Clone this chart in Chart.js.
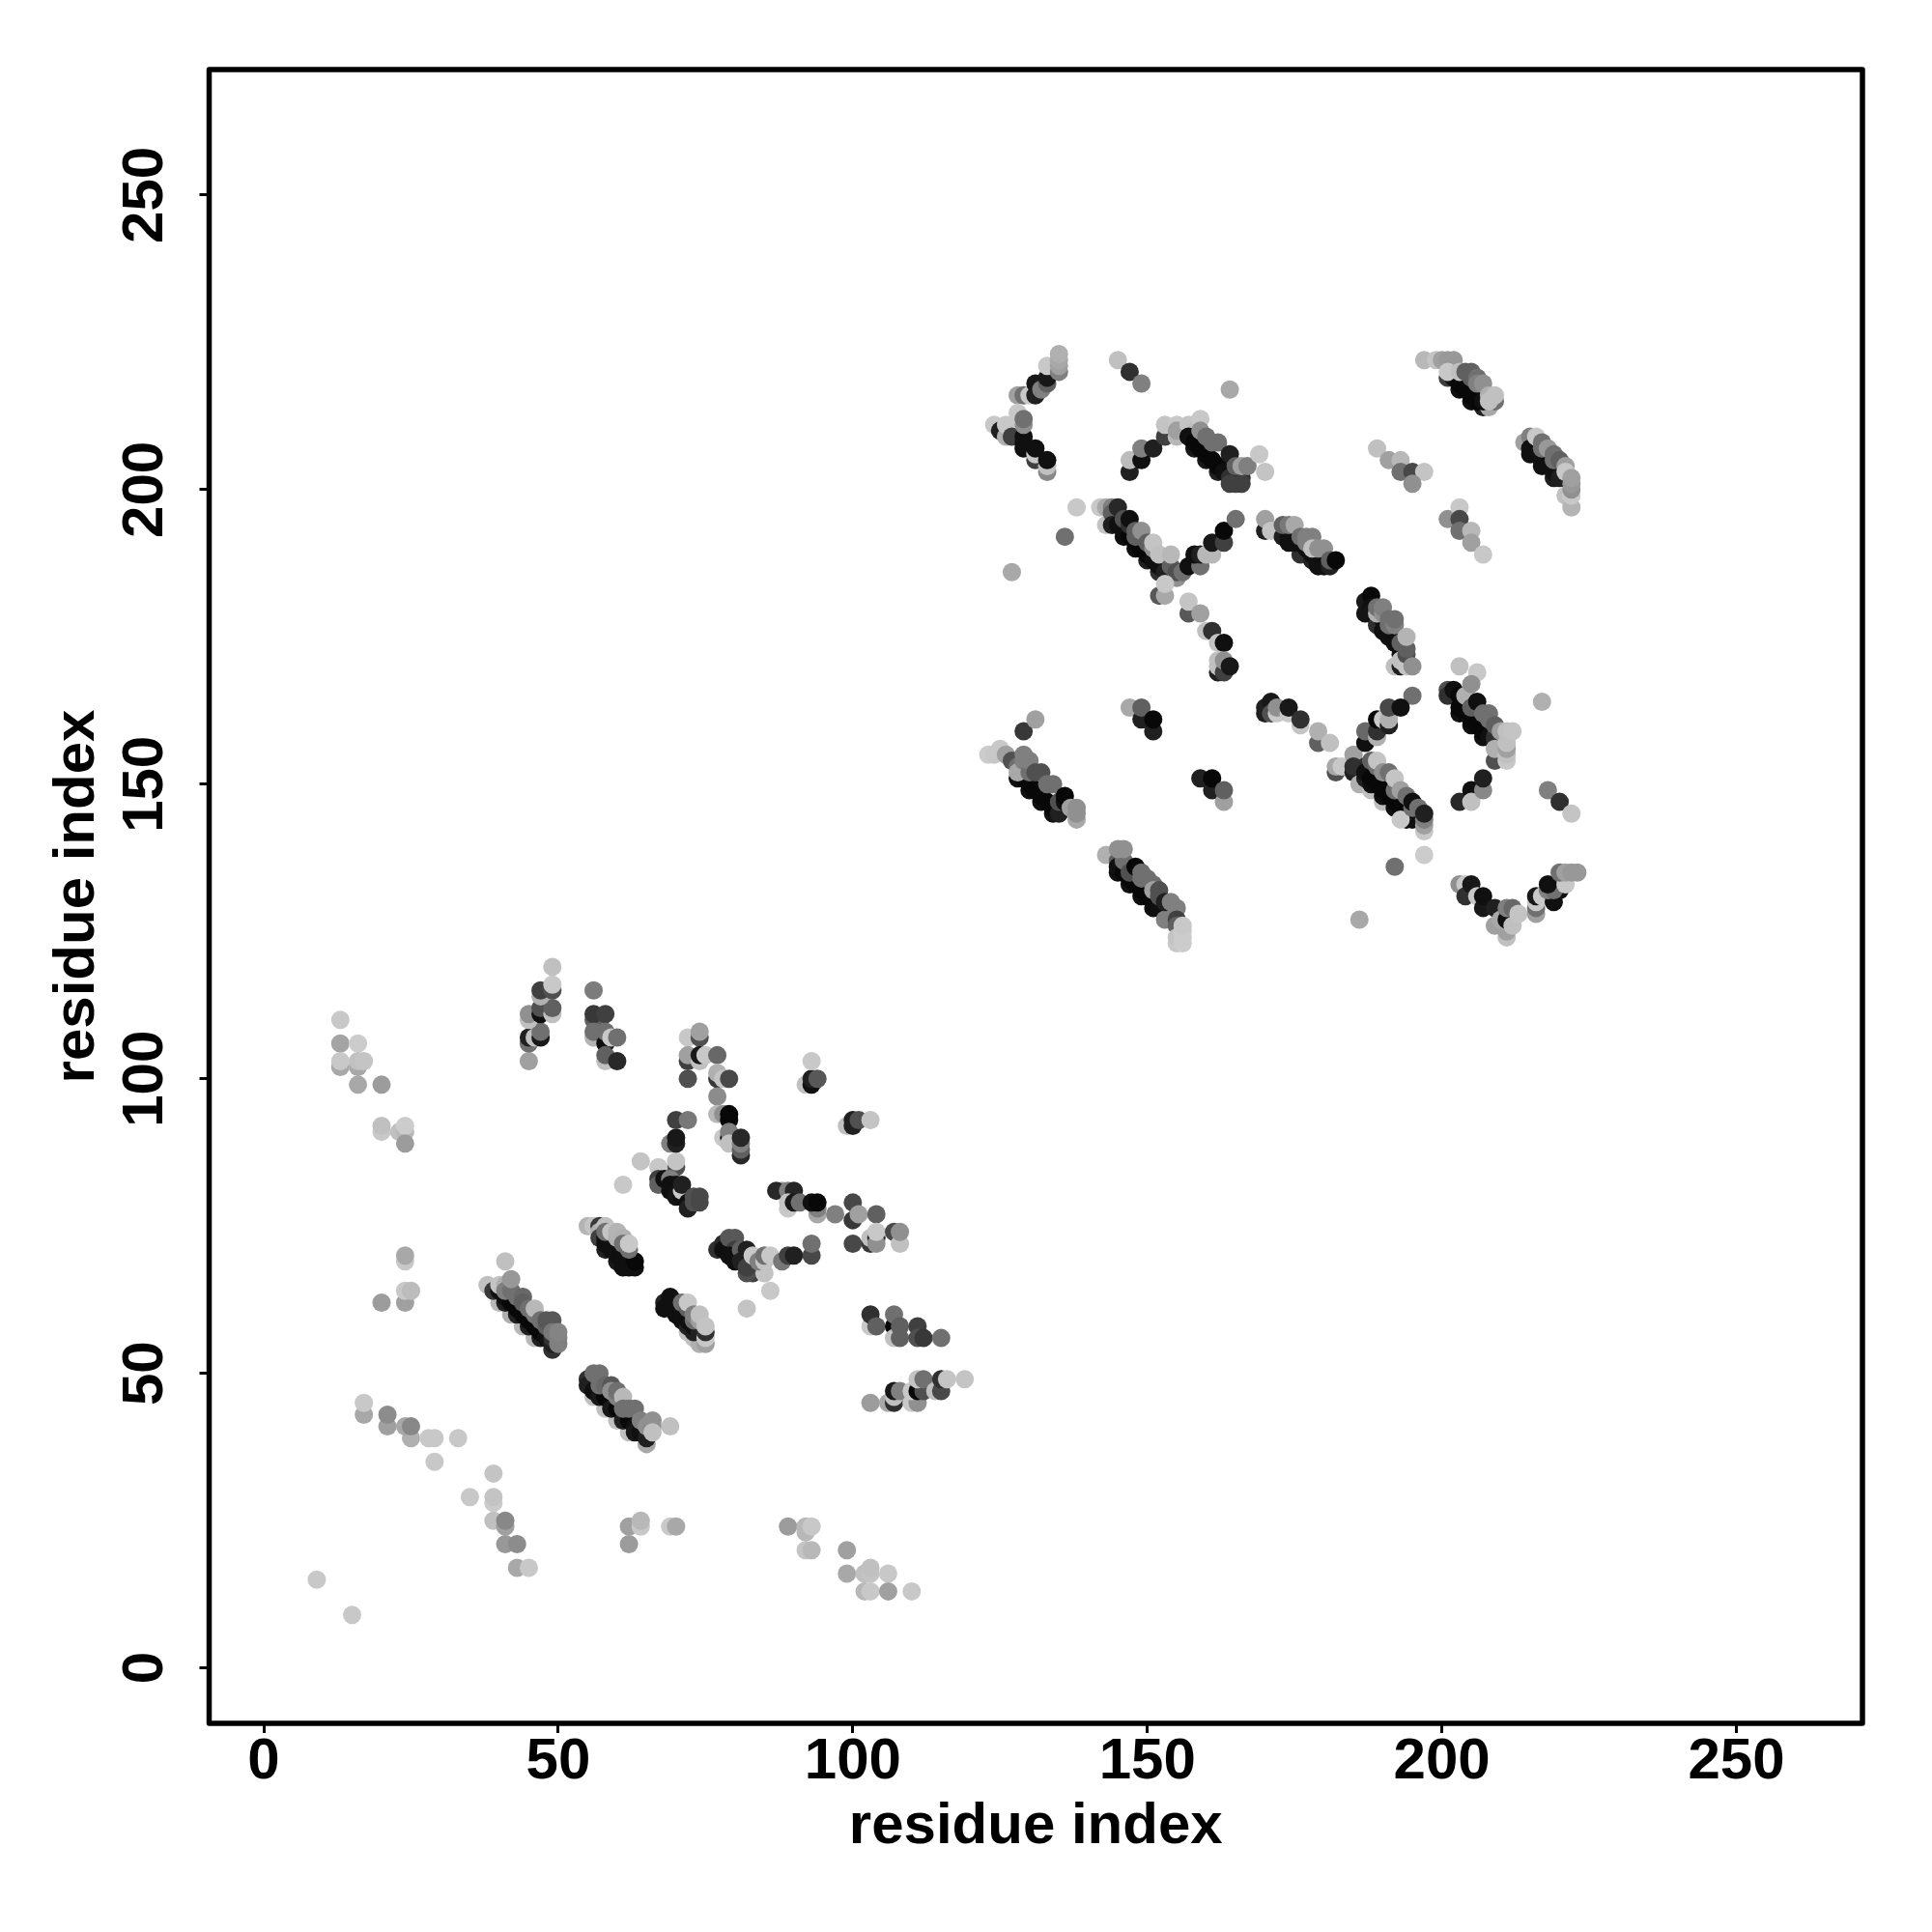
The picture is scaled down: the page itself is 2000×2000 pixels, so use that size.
<!DOCTYPE html>
<html><head><meta charset="utf-8">
<style>html,body{margin:0;padding:0;background:#fff}canvas{display:block}</style>
<script src="https://cdn.jsdelivr.net/npm/chart.js@4/dist/chart.umd.min.js"></script>
</head><body><canvas id="c" width="2000" height="2000"></canvas>
<script>
const tickValues=[0,50,100,150,200,250];
const axisTitle="residue index";
// each contact: [residue x, residue y, grey level]
const sparseLow=[[9,15,0xc8],[15,9,0xc8],[17,43,0xa8],[17,45,0xc8],[21,41,0xa0],[21,43,0x8c],[25,39,0xb0],[24,41,0xa8],[25,41,0x88],[28,39,0xc8],[29,39,0xc8],[33,39,0xc8],[29,35,0xc8],[35,29,0xc8],[39,33,0xc4],[39,28,0xcc],[39,29,0xc4],[39,25,0xc0],[41,24,0xa0],[41,25,0x88],[41,21,0x98],[43,21,0x8c],[43,17,0xa8],[45,17,0xc8],
[62,24,0xa0],[64,24,0xc8],[64,25,0xb8],[62,21,0x9c],[69,24,0xc8],[70,24,0xa8],[89,24,0x9c],[92,23,0xb8],[92,24,0xb8],[93,24,0xc8],[92,20,0xc4],[93,20,0xb8],[99,20,0xa0],[99,16,0xa8],[102,16,0xc0],[103,16,0xc4],[103,17,0xc0],[106,16,0xc8],[102,13,0xb8],[103,13,0xc8],[106,13,0xa0],[110,13,0xc8]];
const sparseUpper=[[13,110,0xc8],[13,106,0xa4],[16,106,0xcc],[13,102,0xa8],[13,103,0xc8],[16,102,0xa8],[16,103,0xc0],[17,103,0xc4],[16,99,0xa8],[20,99,0x9c],[20,91,0xc8],[20,92,0xc0],[23,91,0xc0],[24,91,0xb8],[24,92,0xcc],[24,89,0x9c],[24,69,0xc8],[24,70,0xa8],[20,62,0x9c],[24,62,0xa0],[24,64,0xc8],[25,64,0xbc]];
const peaksA=[[45,103,0xa0],[45,106,0x70],[45,107,0x20],[46,107,0xc0],[47,107,0x18],[47,108,0x70],[45,110,0xc0],[45,111,0x90],[47,111,0x10],[47,112,0x50],[49,111,0xc0],[49,112,0x60],[47,114,0xb0],[47,115,0x40],[49,115,0x50],[49,116,0xc8],[49,119,0xc0]];
const peaksB=[[56,115,0x7c],[56,110,0x60],[56,111,0x38],[58,111,0x40],[56,107,0xb4],[56,108,0x70],[58,106,0x10],[58,108,0x70],[59,107,0xc8],[60,107,0x70],[58,103,0xc0],[58,104,0x60],[60,103,0x28]];
const bandA=[[38,65,0xc0],[40,62,0xb8],[42,60,0xb0],[44,58,0xb8],[46,56,0xb8],[39,64,0x38],[41,62,0x20],[43,60,0x20],[45,58,0x20],[47,56,0x20],[40,64,0x10],[41,63,0x10],[42,62,0x08],[43,61,0x08],[44,60,0x08],[45,59,0x08],[46,58,0x08],[47,57,0x08],[48,56,0x10],[49,54,0x30],[49,55,0x20],[49,56,0x30],[40,65,0xc4],[41,65,0xb0],[41,64,0x80],[42,64,0x70],[42,66,0x98],[41,69,0xc0],[43,63,0x70],[44,63,0x68],[44,62,0x60],[45,61,0x70],[46,60,0x78],[46,61,0xb8],[47,59,0x70],[48,58,0x60],[48,59,0x58],[49,59,0x58],[49,57,0x78],[50,55,0x80],[50,56,0x80],[50,57,0x84]];
const bandB=[[65,38,0xa8],[56,46,0xc0],[58,44,0xc0],[60,42,0xc0],[62,40,0xc0],[55,49,0x30],[55,48,0x20],[56,47,0x10],[57,47,0x10],[57,46,0x18],[58,46,0x08],[59,45,0x08],[59,44,0x18],[60,44,0x08],[61,43,0x08],[61,42,0x20],[62,42,0x08],[63,41,0x10],[63,40,0x18],[64,40,0x10],[65,39,0x20],[56,50,0x70],[57,50,0x70],[57,48,0x70],[58,48,0x68],[59,48,0x58],[59,47,0x90],[60,46,0x80],[60,47,0x70],[61,46,0xb8],[61,44,0x70],[62,44,0x70],[63,44,0x70],[64,42,0x80],[65,41,0x90],[66,41,0x88],[66,42,0x90],[66,40,0xc0],[69,41,0xc0]];
const bandC=[[55,75,0xb4],[56,75,0xc4],[57,75,0x38],[57,74,0xb0],[58,75,0xc0],[57,73,0x40],[58,71,0x20],[60,69,0x18],[61,68,0x10],[58,72,0x10],[59,71,0x10],[60,70,0x10],[61,69,0x10],[62,68,0x10],[58,73,0x10],[59,72,0x10],[60,71,0x10],[61,70,0x10],[62,69,0x10],[63,68,0x10],[63,69,0x08],[58,74,0x70],[59,74,0xc4],[60,73,0xb0],[60,74,0xb4],[61,73,0xb0],[61,72,0x70],[62,71,0x70],[62,72,0xc8]];
const bandD=[[72,57,0xc0],[73,56,0xc0],[74,55,0xb0],[68,62,0x20],[68,61,0x10],[69,63,0x10],[69,61,0x10],[70,60,0x10],[71,59,0x10],[72,58,0x20],[73,57,0x20],[70,62,0x18],[69,62,0x10],[70,61,0x10],[71,60,0x10],[72,59,0x10],[73,58,0x10],[74,57,0x20],[75,55,0xa0],[75,56,0xc8],[75,57,0x30],[71,62,0x70],[72,61,0x60],[72,62,0xc8],[73,59,0x70],[73,60,0x80],[74,59,0xa0],[74,60,0xc0],[75,58,0xc4]];
const bandE=[[88,81,0xa0],[87,81,0x28],[89,81,0x80],[90,81,0x25],[89,78,0xc8],[89,79,0xc4],[90,79,0x18],[91,79,0x70],[94,77,0xa8],[94,78,0x80],[93,79,0x10],[94,79,0x08],[97,77,0x80],[100,76,0x38],[100,79,0x48],[101,77,0xa0],[104,77,0x60],[100,72,0x48],[103,72,0x38],[103,73,0xc0],[104,73,0x20],[104,72,0x90],[104,74,0xc8],[107,74,0x48],[108,72,0xc0],[108,74,0x90]];
const bandF=[[77,71,0x30],[78,72,0x28],[78,71,0x10],[79,71,0x10],[80,70,0x10],[81,70,0x10],[82,69,0x10],[79,73,0x58],[80,73,0x58],[80,71,0x40],[79,70,0x10],[80,69,0x10],[81,71,0x60],[82,71,0x20],[81,69,0x20],[83,67,0x40],[82,67,0x50],[82,68,0x40],[83,70,0xc8],[85,67,0xc4],[84,69,0x80],[85,69,0xc4],[85,70,0x70],[86,70,0xc8],[88,69,0x78],[89,70,0x40],[90,70,0x20],[93,70,0x48],[93,72,0x70],[86,64,0xc8],[82,61,0xc4]];
const stemG=[[70,85,0x50],[70,86,0xc4],[69,89,0x80],[70,89,0x20],[70,90,0x18],[70,93,0x40],[72,93,0x78],[64,86,0xc4],[61,82,0xc8],[67,85,0xc8],[67,83,0x40],[67,82,0x60],[68,83,0x10],[69,83,0x80],[69,82,0x10],[70,82,0x10],[69,81,0x10],[70,81,0x10],[70,80,0x15],[71,80,0x10],[72,80,0x10],[71,81,0xc8],[72,79,0x10],[72,78,0x20],[71,82,0x20],[73,79,0x50],[73,80,0x50],[74,79,0x48],[74,80,0x48]];
const hookH=[[72,107,0xc8],[74,107,0x50],[74,108,0xa0],[72,103,0x40],[72,104,0xa0],[72,100,0x50],[74,103,0xc0],[74,104,0x18],[75,104,0xc8],[77,104,0x68],[77,100,0x38],[77,101,0xb0],[78,100,0xc4],[79,100,0x48],[77,97,0x8c],[77,94,0xb8],[78,94,0x90],[79,93,0x08],[79,94,0x08],[78,90,0xc8],[79,90,0x10],[79,91,0x80],[79,89,0xc0],[81,87,0x28],[81,88,0x60],[81,89,0x80],[81,90,0x28],[92,99,0xc0],[93,99,0x10],[93,100,0x20],[94,100,0x58],[93,103,0xc8],[99,92,0xc0],[100,92,0x20],[100,93,0x20],[101,93,0x50],[103,93,0xc4]];
const sideI=[[103,58,0xc8],[103,60,0x30],[104,58,0x60],[107,58,0x08],[107,56,0xc0],[107,60,0x70],[108,58,0x60],[108,56,0x60],[111,58,0x40],[111,56,0x50],[112,56,0x38],[115,56,0x70],[103,45,0x9c],[106,45,0xa8],[107,45,0x30],[107,46,0xc0],[107,47,0x18],[108,47,0x80],[110,45,0xc8],[111,45,0x90],[110,47,0xc8],[111,47,0x08],[112,47,0x50],[111,49,0xc4],[112,49,0x70],[114,47,0xc0],[115,47,0x48],[115,49,0x30],[116,49,0xc4],[119,49,0xc4]];
const hairpinJ=[[128,216,0xa0],[129,216,0x70],[130,216,0xc8],[131,216,0x20],[131,218,0x18],[132,217,0x80],[133,218,0x60],[133,219,0x18],[133,221,0xc8],[135,220,0x80],[135,221,0xa0],[135,222,0xa8],[135,223,0xb0],[124,211,0xc8],[125,210,0x20],[126,209,0xb0],[126,211,0xc8],[127,209,0x40],[128,213,0xc8],[129,207,0x10],[129,208,0x10],[129,209,0x10],[129,211,0x90],[129,212,0x70],[131,205,0x40],[131,206,0xc8],[131,207,0x10],[133,203,0x88],[133,204,0xc0],[133,205,0x10]];
const upperK=[[145,222,0xc0],[147,220,0x30],[149,218,0x80],[164,217,0xa8],[138,197,0xc8],[136,192,0x70],[127,186,0xa8],[147,203,0x20],[147,205,0xbc],[149,205,0x10],[149,207,0x80],[151,207,0x20],[153,209,0x40],[153,211,0xc4],[155,209,0xb8],[155,211,0xc8],[155,210,0xa0],[157,211,0xc4],[158,210,0xc0],[159,212,0xc8],[158,207,0x18],[160,205,0x18],[162,203,0x20],[157,209,0x10],[158,208,0x08],[159,207,0x08],[160,206,0x08],[161,205,0x08],[162,204,0x08],[163,203,0x10],[164,202,0x30],[165,201,0x40],[166,202,0x30],[166,201,0x40],[164,201,0x40],[159,210,0x90],[160,209,0x70],[161,208,0x70],[162,208,0x70],[164,206,0x20],[165,204,0x60],[166,204,0xa0],[167,204,0x80],[169,206,0xc8],[170,203,0xc4]];
const bandL=[[143,194,0xc4],[142,197,0xc8],[143,197,0xa8],[144,197,0x80],[144,196,0x60],[144,194,0x20],[145,197,0x28],[146,192,0x10],[148,190,0x10],[150,188,0x20],[152,186,0x30],[145,194,0x10],[146,193,0x10],[147,192,0x08],[148,191,0x08],[149,190,0x08],[150,189,0x08],[151,188,0x10],[152,187,0x10],[146,195,0x50],[147,194,0x30],[147,195,0x10],[148,192,0x60],[148,193,0x60],[149,193,0x90],[150,191,0x60],[151,190,0x90],[151,191,0xc4],[152,189,0xc0],[153,186,0x20],[154,187,0x60],[155,185,0x90],[155,186,0x50],[154,189,0xb8],[156,186,0x70],[157,187,0x10],[159,187,0x70],[158,189,0x10],[159,189,0x20],[160,189,0xb8],[161,189,0xb8],[161,191,0x18],[163,191,0x40],[163,193,0x08],[165,195,0x70],[152,182,0x58],[153,182,0xa8],[153,184,0xc8],[157,179,0x58],[157,181,0xc4],[159,179,0xa0],[160,176,0xc0],[161,176,0x30],[162,174,0xc4],[163,174,0x10],[162,169,0x20],[162,170,0xc0],[162,171,0xc0],[163,169,0x40],[163,171,0x90],[164,170,0x18]];
const bandM=[[170,193,0x20],[170,195,0xa0],[171,193,0xc4],[173,192,0x20],[174,191,0x10],[176,189,0x30],[178,188,0x20],[174,192,0x10],[175,191,0x10],[176,191,0x10],[177,190,0x10],[178,189,0x10],[179,188,0x10],[180,188,0x10],[179,187,0x10],[180,187,0x10],[181,187,0x20],[173,194,0x60],[174,194,0x78],[175,194,0xa8],[176,192,0x70],[177,191,0x80],[177,192,0x80],[178,192,0x80],[178,190,0xc0],[179,190,0x90],[180,190,0x90],[181,188,0x60],[182,188,0x08]];
const bandN=[[187,179,0x15],[187,181,0x18],[188,182,0x08],[188,180,0x10],[188,179,0x15],[189,178,0x10],[189,177,0x30],[190,178,0x10],[190,176,0x10],[191,176,0x10],[191,175,0x10],[192,175,0x10],[192,174,0x10],[193,173,0x10],[193,172,0x10],[189,179,0xb0],[189,180,0x70],[190,179,0x90],[190,180,0x80],[191,177,0x70],[191,178,0x70],[192,177,0x80],[192,178,0x70],[192,170,0xc0],[193,170,0x20],[193,171,0xc0],[193,174,0x60],[194,170,0xc4],[194,172,0x50],[194,173,0x60],[194,175,0xb4],[195,170,0x90],[195,165,0x70]];
const rightO=[[189,207,0xc0],[191,205,0xa0],[193,205,0xb8],[193,203,0x70],[195,203,0x48],[197,203,0xc4],[195,201,0x90],[201,195,0x90],[203,197,0xc8],[203,195,0x48],[203,193,0x70],[205,193,0xb8],[205,191,0xa0],[207,189,0xc8]];
const bandP=[[197,222,0xb8],[199,222,0xc4],[200,222,0xa0],[201,219,0x40],[203,217,0x10],[205,215,0x10],[207,214,0x20],[208,214,0xa8],[202,219,0x10],[203,218,0x08],[204,217,0x08],[205,216,0x08],[206,215,0x08],[207,215,0x10],[201,222,0x98],[202,222,0x98],[201,220,0xc8],[203,220,0xc0],[204,220,0x60],[205,219,0x60],[205,220,0x60],[206,219,0x70],[206,218,0x80],[207,218,0x90],[208,216,0xb0],[209,215,0x70],[208,215,0xc0],[209,216,0xc0]];
const bandQ=[[214,208,0xa0],[215,209,0x80],[215,206,0x10],[217,204,0x10],[219,202,0x20],[215,207,0x10],[216,206,0x10],[217,205,0x10],[218,204,0x10],[219,203,0x10],[220,202,0x20],[216,209,0xc8],[217,208,0x70],[217,207,0x70],[218,207,0x98],[219,206,0x70],[219,205,0x70],[220,205,0x60],[221,204,0xa0],[221,199,0xc0],[222,197,0xb4],[222,199,0xc8],[222,200,0x90],[221,203,0xc8],[222,201,0x98],[222,202,0xa0]];
const bandR=[[123,155,0xcc],[124,155,0xc8],[125,156,0xc8],[126,155,0xa0],[127,154,0x50],[128,151,0x10],[130,149,0x10],[132,147,0x10],[134,145,0x10],[129,151,0x08],[130,150,0x08],[131,149,0x08],[132,148,0x08],[133,147,0x08],[134,146,0x08],[135,145,0x20],[128,153,0x70],[128,152,0xa8],[129,154,0x80],[129,155,0x80],[130,152,0x70],[130,154,0x80],[131,152,0x50],[132,152,0x50],[133,150,0x70],[134,150,0x70],[135,147,0x50],[136,147,0x10],[136,148,0x08],[138,144,0xa8],[137,146,0xa0],[138,145,0x90],[138,146,0x90],[129,159,0x38],[131,161,0xa0]];
const bandS=[[143,138,0xb0],[145,137,0x60],[145,135,0x10],[147,133,0x10],[149,131,0x10],[151,129,0x10],[145,136,0x10],[146,135,0x08],[147,134,0x08],[148,133,0x08],[149,132,0x08],[150,131,0x08],[151,130,0x08],[152,129,0x10],[146,137,0x70],[145,139,0x90],[146,139,0x90],[147,135,0x50],[148,136,0x08],[149,134,0x70],[149,135,0x70],[150,134,0x70],[151,133,0x70],[151,132,0xa0],[152,131,0x50],[152,132,0x50],[153,127,0x80],[153,130,0x20],[154,130,0x80],[155,129,0x80],[155,127,0x40],[155,126,0x60],[155,123,0xc8],[155,124,0xc4],[156,123,0xcc],[156,124,0xcc],[156,125,0xcc],[156,126,0xc8]];
const islandT=[[147,163,0xa8],[149,161,0x20],[149,163,0x60],[151,159,0x20],[151,161,0x08],[159,151,0x20],[161,149,0x20],[161,151,0x08],[163,147,0xa0],[163,149,0x60],[170,162,0x20],[170,163,0x20],[171,164,0x18],[171,162,0x50],[172,162,0xc8],[172,163,0x90],[174,162,0xc8],[174,163,0x18],[176,160,0xc4],[176,161,0x30],[179,157,0x60],[179,159,0xb0],[181,157,0xc0]];
const bandU=[[182,152,0x50],[182,153,0xa8],[183,153,0xc8],[185,155,0xa0],[185,152,0x20],[185,153,0x30],[186,150,0xb0],[188,149,0xc0],[190,147,0xc0],[187,151,0x20],[187,153,0x30],[187,157,0x10],[188,150,0x10],[190,148,0x10],[192,146,0x10],[194,144,0x15],[187,152,0x10],[188,151,0x08],[189,150,0x08],[190,149,0x08],[191,148,0x08],[192,147,0x08],[193,146,0x08],[194,145,0x08],[195,144,0x10],[187,159,0x68],[189,158,0xb0],[189,159,0x30],[189,161,0x08],[190,161,0xc8],[191,160,0x20],[191,161,0xb0],[191,163,0x48],[193,163,0x10],[188,154,0x60],[189,153,0x70],[189,154,0xc4],[190,152,0x90],[191,152,0x70],[192,149,0x70],[192,151,0xc4],[193,149,0xa0],[193,144,0xc8],[194,148,0x70],[195,146,0x70],[195,147,0x10],[196,146,0x70],[197,142,0xc8],[197,143,0xa0],[197,144,0x80],[197,145,0x20],[197,138,0xcc],[192,136,0x70],[186,127,0xa8]];
const bandV=[[203,170,0xc0],[206,169,0xc8],[201,166,0x50],[201,165,0x30],[202,166,0x10],[203,165,0x08],[203,162,0x10],[205,160,0x10],[207,158,0x10],[203,163,0x08],[204,162,0x08],[205,161,0x08],[206,160,0x08],[207,159,0x08],[208,158,0x10],[209,157,0x20],[204,165,0xb0],[205,167,0x90],[205,163,0x60],[206,163,0x60],[206,164,0x10],[207,162,0x70],[208,161,0x70],[208,162,0x70],[209,158,0x30],[209,160,0x60],[210,159,0xa0],[209,154,0x50],[209,156,0xb0],[211,154,0xc8],[211,155,0xc0],[211,156,0xa0],[211,157,0xc0],[211,159,0xc0],[212,159,0xc4],[203,147,0x28],[205,149,0x10],[205,147,0xc0],[207,149,0x88],[207,151,0x20],[217,164,0xb0],[218,149,0x80],[220,147,0x30],[222,145,0xc4]];
const valleyW=[[203,133,0x90],[204,133,0xc8],[204,131,0x30],[205,133,0x18],[206,131,0xc8],[207,129,0x18],[207,131,0x10],[209,129,0x20],[209,126,0xa0],[211,124,0xc0],[211,125,0xa0],[210,127,0xa8],[211,127,0x10],[212,126,0xc0],[211,129,0x80],[212,129,0x68],[213,128,0xc4],[216,128,0xa0],[216,129,0x70],[216,130,0xc8],[216,131,0x18],[217,131,0xc8],[219,130,0x10],[220,132,0x10],[218,132,0x80],[219,132,0x70],[218,133,0x10],[221,133,0xc8],[220,135,0x70],[221,135,0xa0],[222,135,0x98],[223,135,0x98]];

const contacts=[sparseLow,sparseUpper,peaksA,peaksB,bandA,bandB,bandC,bandD,bandE,bandF,stemG,hookH,sideI,hairpinJ,upperK,bandL,bandM,bandN,rightO,bandP,bandQ,bandR,bandS,islandT,bandU,bandV,valleyW].flat();

const frame={id:'frame',afterDatasetsDraw(ch){const a=ch.chartArea,c=ch.ctx;c.save();c.strokeStyle='#000';c.lineWidth=5.5;c.lineJoin='round';c.strokeRect(a.left,a.top,a.right-a.left,a.bottom-a.top);c.restore();}};
const tickFont={family:'"Liberation Sans"',size:60,weight:'bold'};
const titleFont={family:'"Liberation Sans"',size:60,weight:'bold'};
const onlyTicks=s=>{s.ticks=tickValues.map(v=>({value:v}));};
const grid={display:true,drawOnChartArea:false,drawTicks:true,tickLength:10,tickWidth:3,tickColor:'#000'};
new Chart(document.getElementById('c'),{type:'scatter',plugins:[frame],
 data:{datasets:[{data:contacts.map(p=>({x:p[0],y:p[1]})),showLine:false,pointRadius:9.5,pointHoverRadius:9.5,pointBorderWidth:0,
  pointBackgroundColor:contacts.map(p=>`rgb(${p[2]},${p[2]},${p[2]})`)}]},
 options:{responsive:false,animation:false,devicePixelRatio:1,
  layout:{padding:{left:0,right:72,top:72,bottom:0}},
  plugins:{legend:{display:false},tooltip:{enabled:false},title:{display:false}},
  scales:{
   x:{type:'linear',min:-9.27,max:271.4,afterBuildTicks:onlyTicks,afterFit:s=>{s.height=216;},
    grid,border:{display:false},
    ticks:{color:'#000',font:tickFont,padding:-6,maxRotation:0,minRotation:0,autoSkip:false,callback:v=>String(v)},
    title:{display:true,text:axisTitle,color:'#000',font:titleFont,padding:{top:0,bottom:73}}},
   y:{type:'linear',min:-9.4,max:271.3,afterBuildTicks:onlyTicks,afterFit:s=>{s.width=216.5;},
    grid,border:{display:false},
    ticks:{color:'#000',font:tickFont,padding:5,minRotation:90,maxRotation:90,autoSkip:false,crossAlign:'center',callback:v=>String(v)},
    title:{display:true,text:axisTitle,color:'#000',font:titleFont,padding:{top:44,bottom:0}}}
  }}});
</script></body></html>
